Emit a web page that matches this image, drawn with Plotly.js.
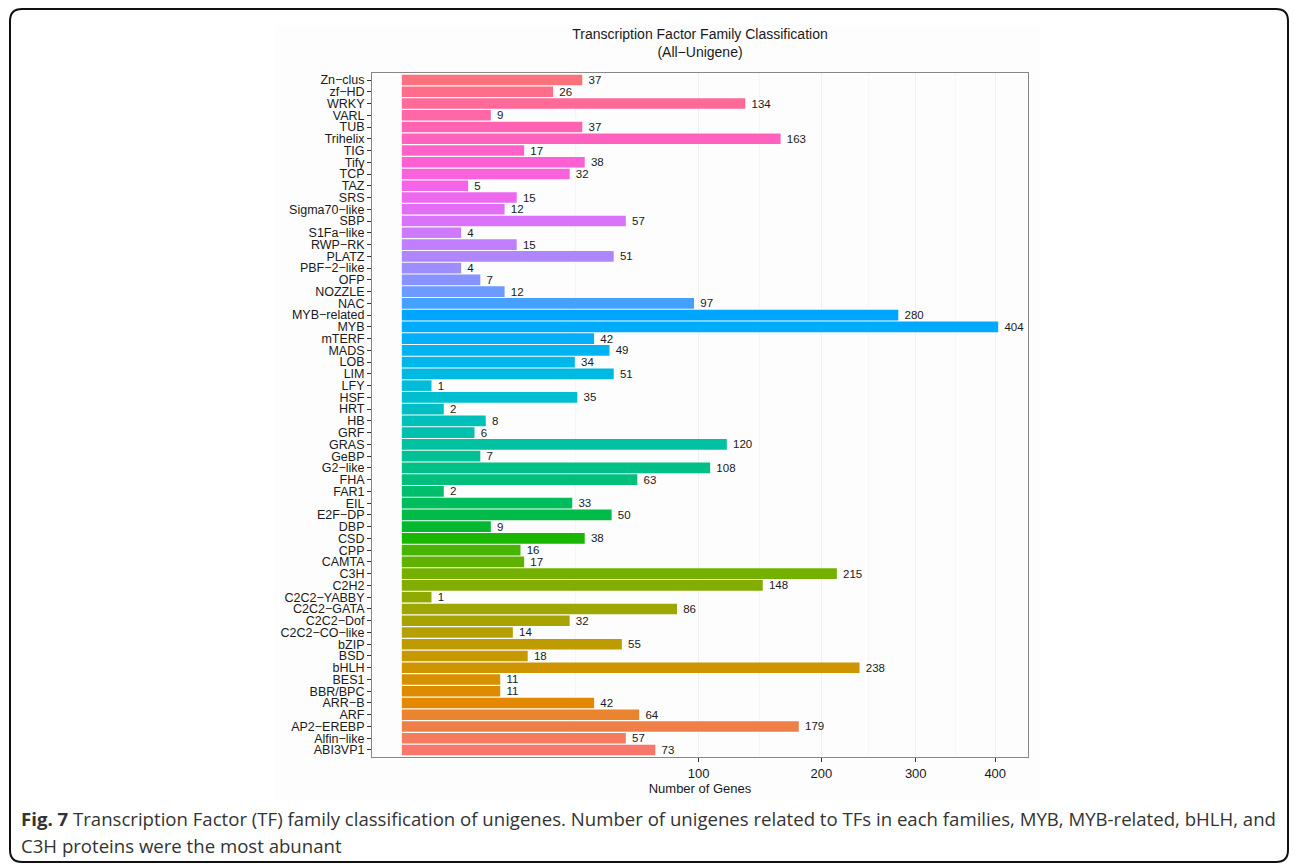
<!DOCTYPE html>
<html>
<head>
<meta charset="utf-8">
<script src="https://cdn.plot.ly/plotly-3.0.1.min.js"></script>
<style>html,body{margin:0;padding:0;background:#fff;}#chart{width:1295px;height:864px;}</style>
</head>
<body>
<div id="chart"></div>
<script>
// Categories listed bottom-to-top (alphabetical factor order)
const families = ["ABI3VP1","Alfin−like","AP2−EREBP","ARF","ARR−B","BBR/BPC","BES1","bHLH","BSD","bZIP",
  "C2C2−CO−like","C2C2−Dof","C2C2−GATA","C2C2−YABBY","C2H2","C3H","CAMTA","CPP","CSD","DBP",
  "E2F−DP","EIL","FAR1","FHA","G2−like","GeBP","GRAS","GRF","HB","HRT",
  "HSF","LFY","LIM","LOB","MADS","mTERF","MYB","MYB−related","NAC","NOZZLE",
  "OFP","PBF−2−like","PLATZ","RWP−RK","S1Fa−like","SBP","Sigma70−like","SRS","TAZ","TCP",
  "Tify","TIG","Trihelix","TUB","VARL","WRKY","zf−HD","Zn−clus"];
const geneCounts = [73,57,179,64,42,11,11,238,18,55,
  14,32,86,1,148,215,17,16,38,9,
  50,33,2,63,108,7,120,6,8,2,
  35,1,51,34,49,42,404,280,97,12,
  7,4,51,15,4,57,12,15,5,32,
  38,17,163,37,9,134,26,37];
const xTickLabels = [100,200,300,400];

// ggplot2 hue palette (HCL, c=100, l=65)
function hcl(h, c, l){
  const hr = h*Math.PI/180, U = c*Math.cos(hr), V = c*Math.sin(hr);
  const Xn=95.047, Yn=100, Zn=108.883, t = Xn+15*Yn+3*Zn;
  const un = 4*Xn/t, vn = 9*Yn/t;
  const Y = l > 7.999592 ? Yn*Math.pow((l+16)/116,3) : Yn*l/903.3;
  const u = U/(13*l)+un, v = V/(13*l)+vn;
  const X = 9*Y*u/(4*v), Z = -X/3 - 5*Y + 3*Y/v;
  const x=X/100, y=Y/100, z=Z/100;
  let rgb = [3.240479*x - 1.537150*y - 0.498535*z,
            -0.969256*x + 1.875992*y + 0.041556*z,
             0.055648*x - 0.204043*y + 1.057311*z];
  rgb = rgb.map(c0 => { let g = c0 <= 0.0031308 ? 12.92*c0 : 1.055*Math.pow(c0,1/2.4)-0.055;
    g = Math.max(0, Math.min(1, g)); return Math.round(g*255); });
  return 'rgb(' + rgb.join(',') + ')';
}
const n = families.length;
const colors = families.map((_, i) => hcl(15 + 360*i/n, 100, 65));

// sqrt-transformed axis
const sq = geneCounts.map(v => Math.sqrt(v));
const tickPos = xTickLabels.map(v => Math.sqrt(v));
const minorPos = [];
minorPos.push(tickPos[0] - (tickPos[1]-tickPos[0]));
for (let i=0;i<tickPos.length-1;i++) minorPos.push((tickPos[i]+tickPos[i+1])/2);

// pixel helpers for paper coords
const L=372, R=1028, T=73, B=757;
const px = x => (x - L)/(R - L);
const py = y => (B - y)/(B - T);

const fx0=10, fy0=9, fx1=1288, fy1=862, rr=12;
const framePath = 'M ' + px(fx0+rr) + ',' + py(fy0) +
  ' L ' + px(fx1-rr) + ',' + py(fy0) +
  ' Q ' + px(fx1) + ',' + py(fy0) + ' ' + px(fx1) + ',' + py(fy0+rr) +
  ' L ' + px(fx1) + ',' + py(fy1-rr) +
  ' Q ' + px(fx1) + ',' + py(fy1) + ' ' + px(fx1-rr) + ',' + py(fy1) +
  ' L ' + px(fx0+rr) + ',' + py(fy1) +
  ' Q ' + px(fx0) + ',' + py(fy1) + ' ' + px(fx0) + ',' + py(fy1-rr) +
  ' L ' + px(fx0) + ',' + py(fy0+rr) +
  ' Q ' + px(fx0) + ',' + py(fy0) + ' ' + px(fx0+rr) + ',' + py(fy0) + ' Z';

const trace = {
  type: 'bar', orientation: 'h',
  y: families, x: sq,
  marker: {color: colors, line: {width: 0}},
  text: geneCounts.map(v => ' ' + v),
  textposition: 'outside', cliponaxis: false, constraintext: 'none',
  textfont: {family: 'Liberation Sans, Arial, sans-serif', size: 11.5, color: '#1a1a1a'},
  hoverinfo: 'skip'
};

const layout = {
  width: 1295, height: 864,
  margin: {l: L, r: 1295-R, t: T, b: 864-B, pad: 0},
  paper_bgcolor: '#ffffff', plot_bgcolor: '#ffffff',
  bargap: 0.1, showlegend: false,
  font: {family: 'Liberation Sans, Arial, sans-serif', color: '#1a1a1a'},
  title: {text: 'Transcription Factor Family Classification<br>(All−Unigene)',
    x: 0.5, xref: 'paper', xanchor: 'center', y: 1 - 39/864, yanchor: 'top',
    font: {size: 14, color: '#1a1a1a'}},
  xaxis: {
    range: [-0.05*Math.sqrt(404), 1.05*Math.sqrt(404)],
    tickmode: 'array', tickvals: tickPos, ticktext: xTickLabels.map(String),
    ticks: 'outside', ticklen: 4, tickwidth: 1, tickcolor: '#333333',
    tickfont: {size: 13, color: '#1a1a1a'},
    showgrid: true, gridcolor: '#f0f0f0', gridwidth: 1,
    minor: {tickmode: 'array', tickvals: minorPos, showgrid: true, gridcolor: '#f6f6f6', ticks: ''},
    zeroline: false, showline: true, mirror: true, linecolor: '#888888', linewidth: 1,
    title: {text: 'Number of Genes', font: {size: 13, color: '#1a1a1a'}, standoff: 4}
  },
  yaxis: {
    type: 'category', range: [-0.6, n - 0.4],
    tickmode: 'array', tickvals: families, ticktext: families,
    ticks: 'outside', ticklen: 4, tickwidth: 1, tickcolor: '#333333',
    tickfont: {size: 12.5, color: '#1a1a1a'},
    showgrid: false, zeroline: false, showline: true, mirror: true, linecolor: '#888888', linewidth: 1
  },
  shapes: [
    {type: 'rect', xref: 'paper', yref: 'paper', x0: px(275), x1: px(1040), y0: py(800), y1: py(25),
     fillcolor: '#fdfdfd', line: {width: 0}, layer: 'below'},
    {type: 'path', xref: 'paper', yref: 'paper', path: framePath, line: {color: '#111111', width: 2}}
  ],
  annotations: [
    {xref: 'paper', yref: 'paper', x: px(19), y: py(819), xanchor: 'left', yanchor: 'middle', showarrow: false,
     text: '<b>Fig. 7</b> Transcription Factor (TF) family classification of unigenes. Number of unigenes related to TFs in each families, MYB, MYB-related, bHLH, and',
     font: {family: 'Open Sans, sans-serif', size: 18.6, color: '#333333'}},
    {xref: 'paper', yref: 'paper', x: px(19), y: py(845), xanchor: 'left', yanchor: 'middle', showarrow: false,
     text: 'C3H proteins were the most abunant',
     font: {family: 'Open Sans, sans-serif', size: 18.6, color: '#333333'}}
  ]
};

Plotly.newPlot('chart', [trace], layout, {displayModeBar: false, staticPlot: true});
</script>
</body>
</html>
